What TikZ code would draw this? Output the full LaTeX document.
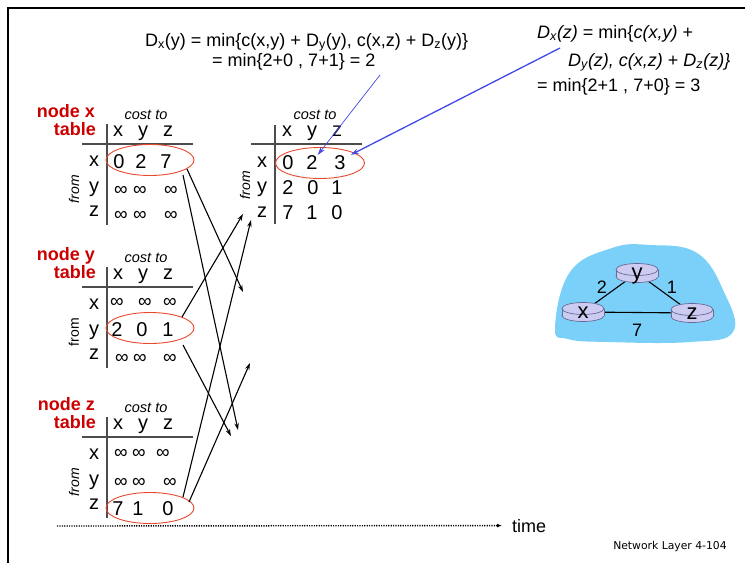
\documentclass[tikz,border=0pt]{standalone}
\usepackage{fontspec}
\setmainfont{Liberation Sans}
\newfontfamily\slidefont{DejaVu Sans}
\usetikzlibrary{arrows.meta,shapes.geometric}
\definecolor{namered}{RGB}{204,0,0}
\definecolor{ovalred}{RGB}{232,72,48}
\definecolor{hintblue}{RGB}{64,72,230}
\definecolor{cloudblue}{RGB}{122,208,248}
\definecolor{routerfill}{RGB}{204,204,242}
\definecolor{routerline}{RGB}{105,105,150}
\tikzset{
  routericon/.pic={
    \path[fill=routerfill, draw=routerline, line width=0.7pt] (0pt,-3.5pt) ellipse [x radius=21pt, y radius=6pt];
    \fill[routerfill] (-21pt,-3.5pt) rectangle (21pt,3.5pt);
    \draw[routerline, line width=0.7pt] (-21pt,-3.5pt) -- (-21pt,3.5pt) (21pt,-3.5pt) -- (21pt,3.5pt);
    \path[fill=routerfill, draw=routerline, line width=0.7pt] (0pt,3.5pt) ellipse [x radius=21pt, y radius=6pt];
  }
}

\begin{document}
\begin{tikzpicture}[x=1pt, y=-1pt,
    entry/.style={anchor=base, inner sep=0pt, font=\fontsize{20}{20}\selectfont},
    inf/.style={anchor=base, inner sep=0pt, font=\fontsize{19}{19}\selectfont},
    costto/.style={anchor=base, inner sep=0pt, font=\fontsize{14.5}{14.5}\selectfont\itshape},
    fromlbl/.style={inner sep=0pt, rotate=90, font=\fontsize{14}{14}\selectfont},
    tname/.style={anchor=base east, inner sep=0pt, text=namered, font=\fontsize{18}{18}\selectfont\bfseries},
    rowmark/.style={ellipse, draw=ovalred, line width=0.9pt, minimum width=88pt, minimum height=31pt, inner sep=0pt},
    rule/.style={draw=black!70, line width=1.1pt},
    update/.style={-{Stealth[length=7pt,width=4.5pt]}, line width=1.1pt},
    hint/.style={-{Stealth[length=8pt,width=5pt]}, draw=hintblue},
    formula/.style={anchor=base west, inner sep=0pt, font=\fontsize{18}{18}\selectfont},
    router/.style={ellipse, minimum width=42pt, minimum height=19pt, inner sep=0pt},
    rlabel/.style={anchor=base, inner sep=0pt, font=\fontsize{22}{22}\selectfont},
    cost/.style={inner sep=0pt, font=\fontsize{18}{18}\selectfont},
    netlink/.style={line width=1.1pt}
  ]
  \useasboundingbox (0,0) rectangle (745,563);

  % slide frame
  \draw[line width=2pt] (8,563) -- (8,8) -- (745,8);

  % table frames at time 0
  \foreach \n/\oy/\fs in {x/0/\itshape, y/143/\upshape, z/293/\itshape} {
    \node[tname] (node\n-a) at (95,117+\oy) {node \n};
    \node[tname] (node\n-b) at (96,135+\oy) {table};
    \node[costto] (cost\n) at (146,119+\oy) {cost to};
    \foreach \c/\cx in {x/118, y/143, z/168}
      \node[entry] (head\n\c) at (\cx,136+\oy) {\c};
    \foreach \c/\ry in {x/166, y/192, z/216}
      \node[entry] (row\n\c) at (94,\ry+\oy) {\c};
    \node[fromlbl] (from\n) at (74,189+\oy) {\fs from};
    \draw[rule] (82,144+\oy) -- (193,144+\oy);
    \draw[rule] (107,124+\oy) -- (107,225+\oy);
  }

  % node x table entries
  \foreach \v/\cx [count=\i] in {0/119, 2/141, 7/166}
    \node[entry] (xtx\i) at (\cx,168) {\v};
  \foreach \r/\ry in {y/195, z/220}
    \foreach \cx [count=\i] in {121,140,171}
      \node[inf] (xt\r\i) at (\cx,\ry) {∞};

  % node y table entries
  \foreach \cx [count=\i] in {117,145,170}
    \node[inf] (ytx\i) at (\cx,307) {∞};
  \foreach \v/\cx [count=\i] in {2/117, 0/142, 1/168}
    \node[entry] (yty\i) at (\cx,336) {\v};
  \foreach \cx [count=\i] in {122,140,170}
    \node[inf] (ytz\i) at (\cx,363) {∞};

  % node z table entries
  \foreach \cx [count=\i] in {121,139,163}
    \node[inf] (ztx\i) at (\cx,458) {∞};
  \foreach \cx [count=\i] in {121,139,170}
    \node[inf] (zty\i) at (\cx,487) {∞};
  \foreach \v/\cx [count=\i] in {7/118, 1/138, 0/168}
    \node[entry] (ztz\i) at (\cx,515) {\v};

  % own rows
  \node[rowmark] (xrow0) at (150,160) {};
  \node[rowmark] (yrow0) at (150,328) {};
  \node[rowmark] (zrow0) at (150,508) {};

  % node x table at time 1
  \node[costto] (cost1) at (315,119) {cost to};
  \foreach \c/\cx in {x/287, y/312, z/337}
    \node[entry] (head1\c) at (\cx,136) {\c};
  \foreach \c/\ry in {x/167, y/192, z/217}
    \node[entry] (row1\c) at (262,\ry) {\c};
  \node[fromlbl] (from1) at (245,185) {\itshape from};
  \draw[rule] (251,144) -- (362,144);
  \draw[rule] (275,125) -- (275,224);
  \foreach \v/\cx [count=\i] in {0/288, 2/312, 3/340}
    \node[entry] (t1x\i) at (\cx,169) {\v};
  \foreach \v/\cx [count=\i] in {2/288, 0/313, 1/337}
    \node[entry] (t1y\i) at (\cx,194) {\v};
  \foreach \v/\cx [count=\i] in {7/288, 1/312, 0/337}
    \node[entry] (t1z\i) at (\cx,219) {\v};
  \node[rowmark, minimum width=89pt] (xrow1) at (320,163) {};

  % distance vector updates
  \coordinate (xout1) at ([shift={(37pt,-9pt)}]xrow0.center);
  \coordinate (xout2) at ([shift={(33pt,-15pt)}]xrow0.center);
  \coordinate (yout1) at ([shift={(32pt,11pt)}]yrow0.center);
  \coordinate (yout2) at ([shift={(33pt,-17pt)}]yrow0.center);
  \coordinate (zout1) at ([shift={(33pt,11pt)}]zrow0.center);
  \coordinate (zout2) at ([shift={(39pt,6pt)}]zrow0.center);
  \coordinate (x2y) at (243,292);
  \coordinate (x2z) at (238,430);
  \coordinate (y2x) at (243,214);
  \coordinate (y2z) at (231,436);
  \coordinate (z2x) at (251,220);
  \coordinate (z2y) at (250,363);
  \draw[update] (xout1) -- (x2y);
  \draw[update] (xout2) -- (x2z);
  \draw[update] (yout1) -- (y2x);
  \draw[update] (yout2) -- (y2z);
  \draw[update] (zout1) -- (z2x);
  \draw[update] (zout2) -- (z2y);

  % Bellman-Ford equations
  \node[formula] (dxy1) at (145,46) {D\textsubscript{x}(y) = min\{c(x,y) + D\textsubscript{y}(y), c(x,z) + D\textsubscript{z}(y)\}};
  \node[formula] (dxy2) at (212,66) {= min\{2+0 , 7+1\} = 2};
  \node[formula] (dxz1) at (537,38) {\textit{D\textsubscript{x}(z)} = min\{\textit{c(x,y)} +};
  \node[formula] (dxz2) at (568,66) {\textit{D\textsubscript{y}(z), c(x,z)} + \textit{D\textsubscript{z}(z)\}}};
  \node[formula] (dxz3) at (537,91) {= min\{2+1 , 7+0\} = 3};
  \coordinate (hintA) at (380,75);
  \coordinate (hintB) at (560,48);
  \draw[hint, line width=0.7pt] (hintA) -- (t1x2.north east);
  \draw[hint, line width=1.3pt] (hintB) -- ([xshift=5pt]t1x3.north east);

  % network
  \node[router] (rx) at (583,312) {};
  \node[router] (ry) at (637,273) {};
  \node[router] (rz) at (692,313) {};
  \fill[cloudblue] plot[smooth cycle, tension=0.7] coordinates {(555,328) (570,272) (612,248) (650,245) (697,253) (724,292) (733,332) (690,342) (607,342) (568,339)};
  \draw[netlink] (rx) -- (ry);
  \draw[netlink] (ry) -- (rz);
  \draw[netlink] (rx) -- (rz);
  \foreach \r in {rx,ry,rz}
    \pic at (\r) {routericon};
  \node[rlabel] (rxl) at ([yshift=-6pt]rx.center) {x};
  \node[rlabel] (ryl) at ([yshift=-6pt]ry.center) {y};
  \node[rlabel] (rzl) at ([yshift=-6pt]rz.center) {z};
  \node[cost] (cxy) at (602,287) {2};
  \node[cost] (cyz) at (672,287) {1};
  \node[cost] (cxz) at (637,330) {7};

  % time axis
  \node[formula] (timelbl) at (512,532) {time};
  \coordinate (tstart) at (57,526);
  \draw[line width=1.4pt, dash pattern=on 1.2pt off 1.2pt, -{Latex[length=5pt,width=4pt]}] (tstart) -- ([xshift=-10pt]timelbl.west);

  \node[font=\slidefont\fontsize{10.8}{10.8}\selectfont, inner sep=0pt] (footer) at (670,547) {Network Layer 4-104};
\end{tikzpicture}
\end{document}
